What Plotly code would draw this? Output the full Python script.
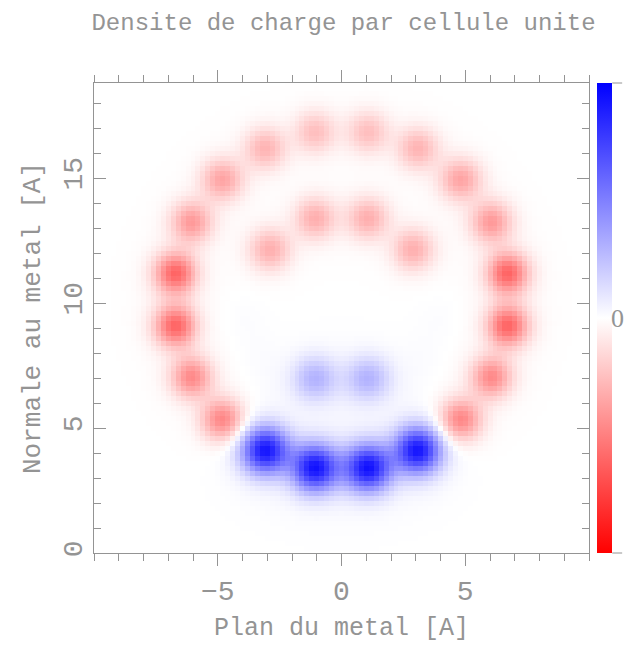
import numpy as np
import plotly.graph_objects as go

# Atomic sites in the unit cell (positions in Angstrom) and their net charge
# (positive = electron gain shown in blue, negative = depletion shown in red).
site_x = [-1.06, 1.06, -3.09, 3.09, -4.81, 4.81, -6.06, 6.06, -6.72, 6.72,
          -6.72, 6.72, -6.06, 6.06, -4.81, 4.81, -3.09, 3.09, -1.06, 1.06,
          -1.05, 1.05, -2.90, 2.90, -1.05, 1.05]
site_y = [16.85, 16.85, 16.20, 16.20, 14.95, 14.95, 13.25, 13.25, 11.20, 11.20,
          9.10, 9.10, 7.05, 7.05, 5.35, 5.35, 4.12, 4.12, 3.42, 3.42,
          13.40, 13.40, 12.15, 12.15, 7.00, 7.00]
site_q = [-0.24, -0.24, -0.28, -0.28, -0.34, -0.34, -0.38, -0.38, -0.58, -0.58,
          -0.58, -0.58, -0.44, -0.44, -0.46, -0.46, 0.88, 0.88, 0.88, 0.88,
          -0.30, -0.30, -0.30, -0.30, 0.28, 0.28]
site_w = [0.58] * 16 + [0.66] * 4 + [0.58] * 4 + [0.62] * 2

# faint diffuse density arc inside the ring
arc_x = [-4.0, 4.0, -3.3, 3.3, -2.2, 2.2, 0.0]
arc_y = [9.4, 9.4, 7.8, 7.8, 6.8, 6.8, 6.3]
arc_q = [0.012, 0.012, 0.012, 0.012, 0.012, 0.012, 0.01]

# colour bar: value marked at the middle of the scale
cbar_mid_value = 0
cbar_mid_label = "0"

# sampling grid of the density map
grid_x = np.arange(-10.0, 10.0001, 0.2)
grid_y = np.arange(0.0, 18.8001, 0.2)
gx, gy = np.meshgrid(grid_x, grid_y)

rho = np.zeros_like(gx)
for x0, y0, q, w in zip(site_x, site_y, site_q, site_w):
    r2 = (gx - x0) ** 2 + (gy - y0) ** 2
    rho += q * (np.exp(-r2 / (2 * w ** 2)) + 0.035 * np.exp(-r2 / (2 * (2 * w) ** 2)))
for x0, y0, q in zip(arc_x, arc_y, arc_q):
    r2 = (gx - x0) ** 2 + (gy - y0) ** 2
    rho += q * np.exp(-r2 / (2 * 0.7 ** 2))

GREY = "#949494"
FONT = "Liberation Mono"
ZMIN, ZMAX = -1, 1

fig = go.Figure(
    go.Heatmap(
        x=grid_x,
        y=grid_y,
        z=rho,
        zmin=ZMIN,
        zmax=ZMAX,
        zsmooth=False,
        colorscale=[[0.0, "rgb(255,0,0)"], [0.5, "rgb(255,255,255)"], [1.0, "rgb(0,0,255)"]],
        colorbar=dict(
            x=1.016,
            xanchor="left",
            xpad=0,
            y=0.5,
            yanchor="middle",
            len=1.0,
            lenmode="fraction",
            ypad=0,
            thickness=15,
            outlinewidth=0,
            ticks="",
            showticklabels=False,
        ),
        hoverinfo="skip",
    )
)

# end marks on the outer side of the colour bar
for yv in (0.0, 1.0):
    fig.add_shape(
        type="line", xref="paper", yref="paper",
        x0=1.047, x1=1.067, y0=yv, y1=yv,
        line=dict(color=GREY, width=1),
    )

# label of the colour-bar midpoint
fig.add_annotation(
    xref="paper", yref="paper",
    x=1.074, xanchor="right",
    y=(cbar_mid_value - ZMIN) / (ZMAX - ZMIN), yanchor="middle",
    text=cbar_mid_label, showarrow=False,
    font=dict(family="Liberation Serif", size=26, color=GREY),
)

axis_common = dict(
    showgrid=False,
    zeroline=False,
    showline=True,
    linecolor=GREY,
    linewidth=1,
    mirror="ticks",
    tickcolor=GREY,
    ticklen=12,
    tickwidth=1,
    tickfont=dict(family=FONT, size=28, color=GREY),
    minor=dict(dtick=1, ticklen=7, tickcolor=GREY, tickwidth=1),
)

fig.update_layout(
    width=628,
    height=648,
    margin=dict(l=94, r=39, t=83, b=95, autoexpand=False),
    paper_bgcolor="white",
    plot_bgcolor="white",
    title=dict(
        text="Densite de charge par cellule unite",
        x=0.547,
        xanchor="center",
        y=0.966,
        yanchor="middle",
        font=dict(family=FONT, size=24, color=GREY),
    ),
    xaxis=dict(
        axis_common,
        range=[-10, 10],
        tickvals=[-5, 0, 5],
        ticks="outside",
        minor=dict(axis_common["minor"], ticks="outside"),
        title=dict(text="Plan du metal [A]", font=dict(family=FONT, size=25, color=GREY), standoff=10),
    ),
    yaxis=dict(
        axis_common,
        range=[0, 18.8],
        tickvals=[0, 5, 10, 15],
        ticks="inside",
        tickangle=-90,
        minor=dict(axis_common["minor"], ticks="inside"),
        title=dict(text="Normale au metal [A]", font=dict(family=FONT, size=26, color=GREY), standoff=10),
    ),
)

fig.write_html("out.html")
